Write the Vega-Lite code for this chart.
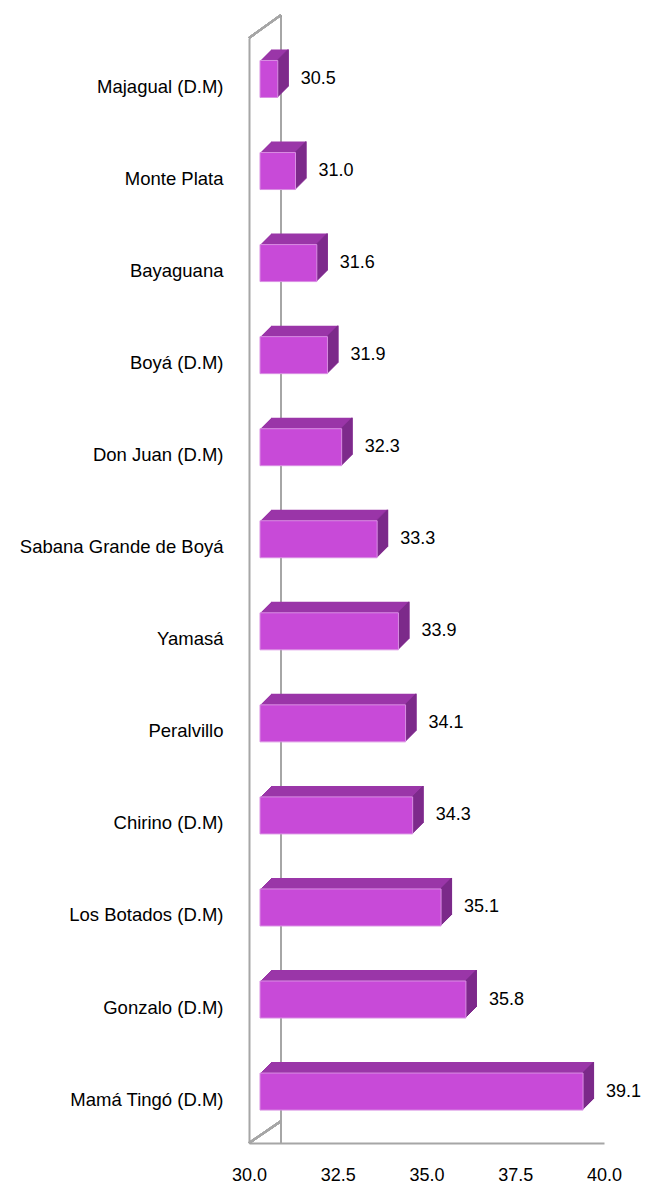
{
  "$schema": "https://vega.github.io/schema/vega-lite/v6.json",
  "width": 355,
  "height": 1105,
  "autosize": {"type": "none"},
  "padding": {"left": 249, "top": 38, "right": 46, "bottom": 43},
  "background": "white",
  "config": {"view": {"stroke": null}, "axis": {"grid": false}},
  "data": {"values": [
    {"name": "Majagual (D.M)", "value": 30.5},
    {"name": "Monte Plata", "value": 31.0},
    {"name": "Bayaguana", "value": 31.6},
    {"name": "Boyá (D.M)", "value": 31.9},
    {"name": "Don Juan (D.M)", "value": 32.3},
    {"name": "Sabana Grande de Boyá", "value": 33.3},
    {"name": "Yamasá", "value": 33.9},
    {"name": "Peralvillo", "value": 34.1},
    {"name": "Chirino (D.M)", "value": 34.3},
    {"name": "Los Botados (D.M)", "value": 35.1},
    {"name": "Gonzalo (D.M)", "value": 35.8},
    {"name": "Mamá Tingó  (D.M)", "value": 39.1}
  ]},
  "layer": [
    {"mark": {"type": "rule", "color": "#a6a6a6", "strokeWidth": 2, "xOffset": 32, "yOffset": -22, "y2Offset": -22},
     "encoding": {"x": {"datum": 30, "type": "quantitative"}}},
    {"mark": {"type": "rule", "color": "#a6a6a6", "strokeWidth": 2, "xOffset": 0, "x2Offset": 32, "yOffset": -49, "y2Offset": -72},
     "encoding": {"x": {"datum": 30, "type": "quantitative"}, "x2": {"datum": 30}, "y": {"datum": "Majagual (D.M)", "type": "nominal"}, "y2": {"datum": "Majagual (D.M)"}}},
    {"mark": {"type": "rule", "color": "#a6a6a6", "strokeWidth": 2, "xOffset": 0, "x2Offset": 32, "yOffset": 43.5, "y2Offset": 21.5},
     "encoding": {"x": {"datum": 30, "type": "quantitative"}, "x2": {"datum": 30}, "y": {"datum": "Mamá Tingó  (D.M)", "type": "nominal"}, "y2": {"datum": "Mamá Tingó  (D.M)"}}},

    {"mark": {"type": "bar", "color": "#9a36a8", "xOffset": 22, "x2Offset": 22, "yOffset": -19}, "encoding": {"x": {"field": "value", "type": "quantitative"}, "x2": {"datum": 30}, "y": {"field": "name", "type": "nominal"}}},
    {"mark": {"type": "bar", "color": "#9a36a8", "xOffset": 21, "x2Offset": 21, "yOffset": -18}, "encoding": {"x": {"field": "value", "type": "quantitative"}, "x2": {"datum": 30}, "y": {"field": "name", "type": "nominal"}}},
    {"mark": {"type": "bar", "color": "#9a36a8", "xOffset": 20, "x2Offset": 20, "yOffset": -17}, "encoding": {"x": {"field": "value", "type": "quantitative"}, "x2": {"datum": 30}, "y": {"field": "name", "type": "nominal"}}},
    {"mark": {"type": "bar", "color": "#9a36a8", "xOffset": 19, "x2Offset": 19, "yOffset": -16}, "encoding": {"x": {"field": "value", "type": "quantitative"}, "x2": {"datum": 30}, "y": {"field": "name", "type": "nominal"}}},
    {"mark": {"type": "bar", "color": "#9a36a8", "xOffset": 18, "x2Offset": 18, "yOffset": -15}, "encoding": {"x": {"field": "value", "type": "quantitative"}, "x2": {"datum": 30}, "y": {"field": "name", "type": "nominal"}}},
    {"mark": {"type": "bar", "color": "#9a36a8", "xOffset": 17, "x2Offset": 17, "yOffset": -14}, "encoding": {"x": {"field": "value", "type": "quantitative"}, "x2": {"datum": 30}, "y": {"field": "name", "type": "nominal"}}},
    {"mark": {"type": "bar", "color": "#9a36a8", "xOffset": 16, "x2Offset": 16, "yOffset": -13}, "encoding": {"x": {"field": "value", "type": "quantitative"}, "x2": {"datum": 30}, "y": {"field": "name", "type": "nominal"}}},
    {"mark": {"type": "bar", "color": "#9a36a8", "xOffset": 15, "x2Offset": 15, "yOffset": -12}, "encoding": {"x": {"field": "value", "type": "quantitative"}, "x2": {"datum": 30}, "y": {"field": "name", "type": "nominal"}}},
    {"mark": {"type": "bar", "color": "#9a36a8", "xOffset": 14, "x2Offset": 14, "yOffset": -11}, "encoding": {"x": {"field": "value", "type": "quantitative"}, "x2": {"datum": 30}, "y": {"field": "name", "type": "nominal"}}},
    {"mark": {"type": "bar", "color": "#9a36a8", "xOffset": 13, "x2Offset": 13, "yOffset": -10}, "encoding": {"x": {"field": "value", "type": "quantitative"}, "x2": {"datum": 30}, "y": {"field": "name", "type": "nominal"}}},
    {"mark": {"type": "bar", "color": "#9a36a8", "xOffset": 12, "x2Offset": 12, "yOffset": -9}, "encoding": {"x": {"field": "value", "type": "quantitative"}, "x2": {"datum": 30}, "y": {"field": "name", "type": "nominal"}}},

    {"mark": {"type": "bar", "color": "#7c2a8a", "xOffset": 12, "x2Offset": 10.5, "yOffset": -9}, "encoding": {"x": {"field": "value", "type": "quantitative"}, "x2": {"field": "value"}, "y": {"field": "name", "type": "nominal"}}},
    {"mark": {"type": "bar", "color": "#7c2a8a", "xOffset": 13, "x2Offset": 11.5, "yOffset": -10}, "encoding": {"x": {"field": "value", "type": "quantitative"}, "x2": {"field": "value"}, "y": {"field": "name", "type": "nominal"}}},
    {"mark": {"type": "bar", "color": "#7c2a8a", "xOffset": 14, "x2Offset": 12.5, "yOffset": -11}, "encoding": {"x": {"field": "value", "type": "quantitative"}, "x2": {"field": "value"}, "y": {"field": "name", "type": "nominal"}}},
    {"mark": {"type": "bar", "color": "#7c2a8a", "xOffset": 15, "x2Offset": 13.5, "yOffset": -12}, "encoding": {"x": {"field": "value", "type": "quantitative"}, "x2": {"field": "value"}, "y": {"field": "name", "type": "nominal"}}},
    {"mark": {"type": "bar", "color": "#7c2a8a", "xOffset": 16, "x2Offset": 14.5, "yOffset": -13}, "encoding": {"x": {"field": "value", "type": "quantitative"}, "x2": {"field": "value"}, "y": {"field": "name", "type": "nominal"}}},
    {"mark": {"type": "bar", "color": "#7c2a8a", "xOffset": 17, "x2Offset": 15.5, "yOffset": -14}, "encoding": {"x": {"field": "value", "type": "quantitative"}, "x2": {"field": "value"}, "y": {"field": "name", "type": "nominal"}}},
    {"mark": {"type": "bar", "color": "#7c2a8a", "xOffset": 18, "x2Offset": 16.5, "yOffset": -15}, "encoding": {"x": {"field": "value", "type": "quantitative"}, "x2": {"field": "value"}, "y": {"field": "name", "type": "nominal"}}},
    {"mark": {"type": "bar", "color": "#7c2a8a", "xOffset": 19, "x2Offset": 17.5, "yOffset": -16}, "encoding": {"x": {"field": "value", "type": "quantitative"}, "x2": {"field": "value"}, "y": {"field": "name", "type": "nominal"}}},
    {"mark": {"type": "bar", "color": "#7c2a8a", "xOffset": 20, "x2Offset": 18.5, "yOffset": -17}, "encoding": {"x": {"field": "value", "type": "quantitative"}, "x2": {"field": "value"}, "y": {"field": "name", "type": "nominal"}}},
    {"mark": {"type": "bar", "color": "#7c2a8a", "xOffset": 21, "x2Offset": 19.5, "yOffset": -18}, "encoding": {"x": {"field": "value", "type": "quantitative"}, "x2": {"field": "value"}, "y": {"field": "name", "type": "nominal"}}},
    {"mark": {"type": "bar", "color": "#7c2a8a", "xOffset": 22, "x2Offset": 20.5, "yOffset": -19}, "encoding": {"x": {"field": "value", "type": "quantitative"}, "x2": {"field": "value"}, "y": {"field": "name", "type": "nominal"}}},

    {"mark": {"type": "bar", "color": "#c84ad8", "stroke": "#d98ee3", "strokeWidth": 1, "xOffset": 11, "x2Offset": 11, "yOffset": -8},
     "encoding": {
       "x": {"field": "value", "type": "quantitative",
             "scale": {"domain": [30, 40], "nice": false, "zero": false},
             "axis": {"title": null, "values": [30, 32.5, 35, 37.5, 40], "format": ".1f", "ticks": false, "labelPadding": 23,
                      "labelFontSize": 18, "labelFont": "Liberation Sans", "labelColor": "#000000", "labelFlush": false,
                      "labelOverlap": false, "domainColor": "#a6a6a6", "domainWidth": 2}},
       "x2": {"datum": 30},
       "y": {"field": "name", "type": "nominal",
             "scale": {"domain": ["Majagual (D.M)", "Monte Plata", "Bayaguana", "Boyá (D.M)", "Don Juan (D.M)", "Sabana Grande de Boyá", "Yamasá", "Peralvillo", "Chirino (D.M)", "Los Botados (D.M)", "Gonzalo (D.M)", "Mamá Tingó  (D.M)"],
                       "paddingInner": 0.598, "paddingOuter": 0.301, "align": 0.55},
             "axis": {"title": null, "ticks": false, "labelPadding": 26, "labelFontSize": 18.5, "labelFont": "Liberation Sans",
                      "labelColor": "#000000", "labelLimit": 400, "domainColor": "#a6a6a6", "domainWidth": 2}}
     }},
    {"mark": {"type": "text", "align": "left", "baseline": "middle", "dx": 34, "dy": -8, "fontSize": 18, "font": "Liberation Sans", "color": "#000000"},
     "encoding": {"x": {"field": "value", "type": "quantitative"}, "y": {"field": "name", "type": "nominal"},
                  "text": {"field": "value", "type": "quantitative", "format": ".1f"}}}
  ]
}
